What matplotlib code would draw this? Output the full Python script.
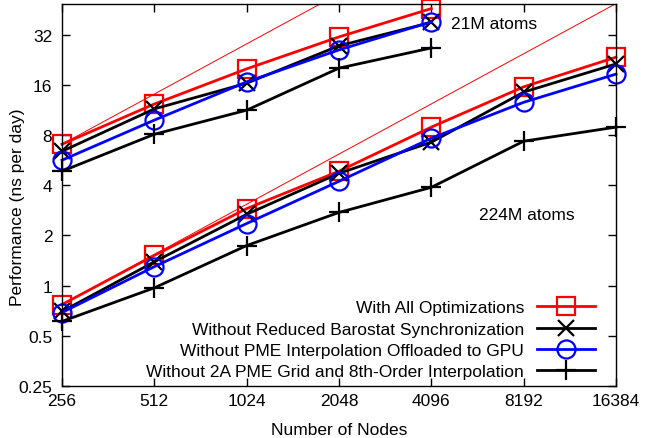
import numpy as np
import matplotlib.pyplot as plt
from matplotlib.ticker import FixedLocator, NullLocator

plt.rcParams['font.family'] = ['Liberation Sans', 'DejaVu Sans']
plt.rcParams['font.size'] = 12.5

nodes = [256, 512, 1024, 2048, 4096, 8192, 16384]
node_labels = ['256', '512', '1024', '2048', '4096', '8192', '16384']

# 21M atoms (up to 4096 nodes)
small_all = [7.06, 12.3, 20.0, 31.1, 46.0]
small_nobaro = [6.4, 11.5, 16.4, 27.5, 38.0]
small_nogpu = [5.66, 9.85, 16.7, 26.0, 38.3]
small_nogrid = [4.86, 8.1, 11.3, 20.2, 26.7]

# 224M atoms (up to 16384 nodes)
big_all = [0.77, 1.52, 2.9, 4.86, 8.94, 15.6, 23.5]
big_nobaro = [0.70, 1.39, 2.68, 4.72, 7.26, 14.5, 21.4]
big_nogpu = [0.69, 1.30, 2.36, 4.23, 7.67, 12.6, 18.6]
big_nogrid = [0.61, 0.97, 1.74, 2.75, 3.89, 7.36, 8.94]

labels = ['With All Optimizations',
          'Without Reduced Barostat Synchronization',
          'Without PME Interpolation Offloaded to GPU',
          'Without 2A PME Grid and 8th-Order Interpolation']

styles = [dict(color='red', marker='s', mfc='none', ms=13),
          dict(color='black', marker='x', ms=12),
          dict(color='blue', marker='o', mfc='none', ms=13),
          dict(color='black', marker='+', ms=14)]

fig = plt.figure(figsize=(6.45, 4.39), dpi=100)
ax = fig.add_axes([0.0961, 0.1185, 0.8589, 0.8701])
ax.set_xscale('log', base=2)
ax.set_yscale('log', base=2)

# ideal linear scaling from the 256-node point
n = np.array(nodes, dtype=float)
ax.plot(n, small_all[0] * n / 256, color='red', lw=0.7)
ax.plot(n, big_all[0] * n / 256, color='red', lw=0.7)

small = [small_all, small_nobaro, small_nogpu, small_nogrid]
big = [big_all, big_nobaro, big_nogpu, big_nogrid]
for i in range(4):
    st = styles[i]
    ax.plot(nodes[:5], small[i], lw=2, mew=1.6, clip_on=False, **st)
    ax.plot(nodes, big[i], lw=2, mew=1.6, label=labels[i], clip_on=False, **st)

ax.set_xlim(256, 16384)
ax.set_ylim(0.25, 49)
ax.xaxis.set_major_locator(FixedLocator(nodes))
ax.set_xticklabels(node_labels)
ax.xaxis.set_minor_locator(NullLocator())
yt = [0.25, 0.5, 1, 2, 4, 8, 16, 32]
ax.yaxis.set_major_locator(FixedLocator(yt))
ax.set_yticklabels(['0.25', '0.5', '1', '2', '4', '8', '16', '32'])
ax.yaxis.set_minor_locator(NullLocator())
ax.tick_params(direction='in', top=True, right=True, length=6, width=1, labelsize=12.5)
ax.tick_params(axis='x', pad=5)
ax.tick_params(axis='y', pad=7)
for s in ax.spines.values():
    s.set_linewidth(1)

ax.set_xlabel('Number of Nodes', labelpad=10)
ax.set_ylabel('Performance (ns per day)')
ax.yaxis.set_label_coords(-0.067, 0.471)

ax.text(0.780, 0.950, '21M atoms', transform=ax.transAxes, ha='center', va='center')
ax.text(0.839, 0.450, '224M atoms', transform=ax.transAxes, ha='center', va='center')

ax.legend(loc='lower right', bbox_to_anchor=(0.962, 0.018), frameon=False, markerfirst=False,
          handlelength=3.33, labelspacing=0.35, handletextpad=0.75, borderpad=0,
          borderaxespad=0)

fig.savefig('out.png', dpi=100)
